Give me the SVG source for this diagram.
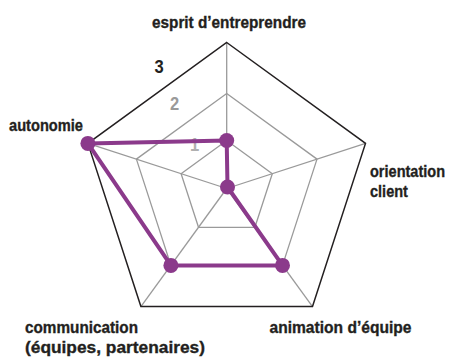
<svg xmlns="http://www.w3.org/2000/svg" width="449" height="360" viewBox="0 0 449 360">
<style>
.lbl{font-family:"Liberation Sans",Arial,sans-serif;font-weight:bold;font-size:17px;fill:#231f20;stroke:#231f20;stroke-width:0.35}
.num{font-family:"Liberation Sans",Arial,sans-serif;font-weight:bold;font-size:18px}
.grid{fill:none;stroke:#9a9a9a;stroke-width:1.3}
.outer{fill:none;stroke:#231f20;stroke-width:1.5}
.series{fill:none;stroke:#8b3a8b;stroke-width:4;stroke-linejoin:round}
.pt{fill:#8b3a8b}
</style>
<rect width="449" height="360" fill="#ffffff"/>
<g id="grid">
<polygon class="grid" points="226.7,140.5 272.3,173.7 254.9,227.3 198.5,227.3 181.1,173.7"/>
<polygon class="grid" points="226.7,93.5 317.0,159.1 282.5,265.4 170.9,265.4 136.4,159.1"/>
<line class="grid" x1="226.7" y1="188.5" x2="226.7" y2="42.5"/>
<line class="grid" x1="226.7" y1="188.5" x2="365.5" y2="143.4"/>
<line class="grid" x1="226.7" y1="188.5" x2="312.5" y2="306.6"/>
<line class="grid" x1="226.7" y1="188.5" x2="140.9" y2="306.6"/>
<line class="grid" x1="226.7" y1="188.5" x2="87.9" y2="143.4"/>
<polygon class="outer" points="226.7,42.5 365.5,143.4 312.5,306.6 140.9,306.6 87.9,143.4"/>
</g>
<g id="scale">
<text class="num" x="154.4" y="72.7" fill="#231f20" textLength="9.2" lengthAdjust="spacingAndGlyphs">3</text>
<text class="num" x="170" y="110" fill="#9a9a9a" textLength="9.2" lengthAdjust="spacingAndGlyphs">2</text>
<text class="num" x="190" y="151" fill="#b0b0b0" textLength="9.2" lengthAdjust="spacingAndGlyphs">1</text>
</g>
<g id="series">
<polygon class="series" points="226.7,140.5 227.5,187 282.5,265.4 170.9,265.4 87.9,143.4"/>
<circle class="pt" cx="226.7" cy="140.5" r="7.5"/>
<circle class="pt" cx="227.5" cy="187" r="7.5"/>
<circle class="pt" cx="282.5" cy="265.4" r="7.5"/>
<circle class="pt" cx="170.9" cy="265.4" r="7.5"/>
<circle class="pt" cx="87.9" cy="143.4" r="7.5"/>
</g>
<g id="label-esprit"><text class="lbl" x="152" y="28" textLength="154" lengthAdjust="spacingAndGlyphs">esprit d’entreprendre</text></g>
<g id="label-orientation"><text class="lbl" transform="translate(370,177) scale(0.855,1)">orientation</text><text class="lbl" transform="translate(370,197) scale(0.855,1)">client</text></g>
<g id="label-animation"><text class="lbl" x="269.5" y="333" textLength="142" lengthAdjust="spacingAndGlyphs">animation d’équipe</text></g>
<g id="label-communication"><text class="lbl" x="25" y="333" textLength="113" lengthAdjust="spacingAndGlyphs">communication</text><text class="lbl" x="25" y="353" textLength="180" lengthAdjust="spacingAndGlyphs">(équipes, partenaires)</text></g>
<g id="label-autonomie"><text class="lbl" x="9" y="131" textLength="74" lengthAdjust="spacingAndGlyphs">autonomie</text></g>
</svg>
